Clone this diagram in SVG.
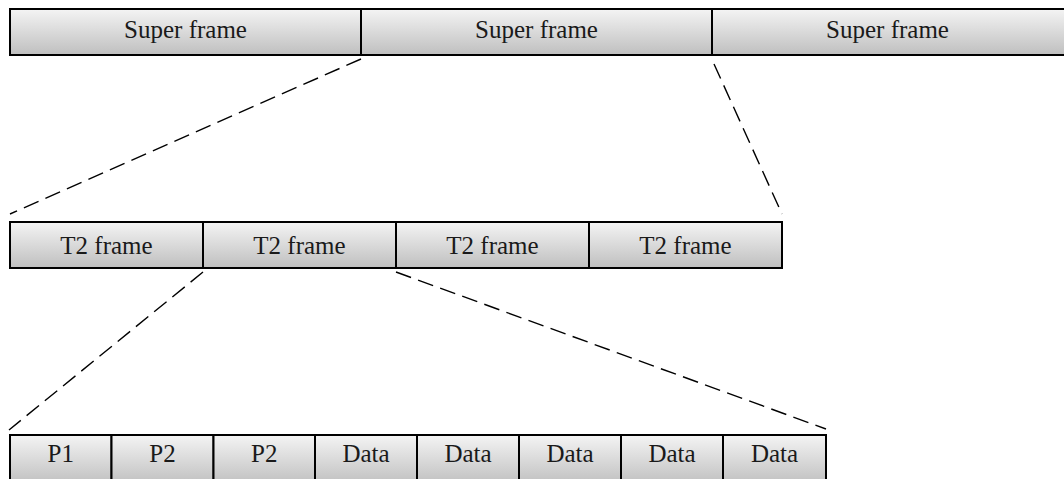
<svg xmlns="http://www.w3.org/2000/svg" width="1064" height="479" viewBox="0 0 1064 479">
<defs>
<linearGradient id="g" x1="0" y1="0" x2="0" y2="1">
<stop offset="0" stop-color="#f4f4f4"/>
<stop offset="1" stop-color="#bfbfbf"/>
</linearGradient>
<style>
.cell{fill:url(#g);stroke:#000;stroke-width:2}
.t{font-family:"Liberation Serif","Times New Roman",serif;font-size:25px;fill:#1a1a1a;text-anchor:middle}
.c{fill:none;stroke:#000;stroke-width:1.4;stroke-dasharray:16 7.5}
</style>
</defs>
<rect width="1064" height="479" fill="#fff"/>
<g id="superframes">
<g id="sf1"><rect class="cell" x="10" y="9" width="351" height="46"/><text class="t" x="185.5" y="37.5">Super frame</text></g>
<g id="sf2"><rect class="cell" x="361" y="9" width="351" height="46"/><text class="t" x="536.5" y="37.5">Super frame</text></g>
<g id="sf3"><rect class="cell" x="712" y="9" width="356" height="46"/><text class="t" x="887.5" y="37.5">Super frame</text></g>
</g>
<g id="t2frames">
<g id="t2a"><rect class="cell" x="10" y="222" width="193" height="46"/><text class="t" x="106.5" y="253.5">T2 frame</text></g>
<g id="t2b"><rect class="cell" x="203" y="222" width="193" height="46"/><text class="t" x="299.5" y="253.5">T2 frame</text></g>
<g id="t2c"><rect class="cell" x="396" y="222" width="193" height="46"/><text class="t" x="492.5" y="253.5">T2 frame</text></g>
<g id="t2d"><rect class="cell" x="589" y="222" width="193" height="46"/><text class="t" x="685.5" y="253.5">T2 frame</text></g>
</g>
<g id="symbols">
<g id="s1"><rect class="cell" x="10" y="435" width="101.5" height="50"/><text class="t" x="60.75" y="461.5">P1</text></g>
<g id="s2"><rect class="cell" x="111.5" y="435" width="102" height="50"/><text class="t" x="162.5" y="461.5">P2</text></g>
<g id="s3"><rect class="cell" x="213.5" y="435" width="101.5" height="50"/><text class="t" x="264.25" y="461.5">P2</text></g>
<g id="s4"><rect class="cell" x="315" y="435" width="102" height="50"/><text class="t" x="366" y="461.5">Data</text></g>
<g id="s5"><rect class="cell" x="417" y="435" width="102" height="50"/><text class="t" x="468" y="461.5">Data</text></g>
<g id="s6"><rect class="cell" x="519" y="435" width="102" height="50"/><text class="t" x="570" y="461.5">Data</text></g>
<g id="s7"><rect class="cell" x="621" y="435" width="102" height="50"/><text class="t" x="672" y="461.5">Data</text></g>
<g id="s8"><rect class="cell" x="723" y="435" width="103" height="50"/><text class="t" x="774.5" y="461.5">Data</text></g>
</g>
<g id="connectors">
<line class="c" x1="361" y1="59" x2="10" y2="214"/>
<line class="c" x1="714" y1="64" x2="782" y2="214"/>
<line class="c" x1="203" y1="272" x2="9" y2="430"/>
<line class="c" x1="396" y1="272" x2="826" y2="429"/>
</g>
</svg>
